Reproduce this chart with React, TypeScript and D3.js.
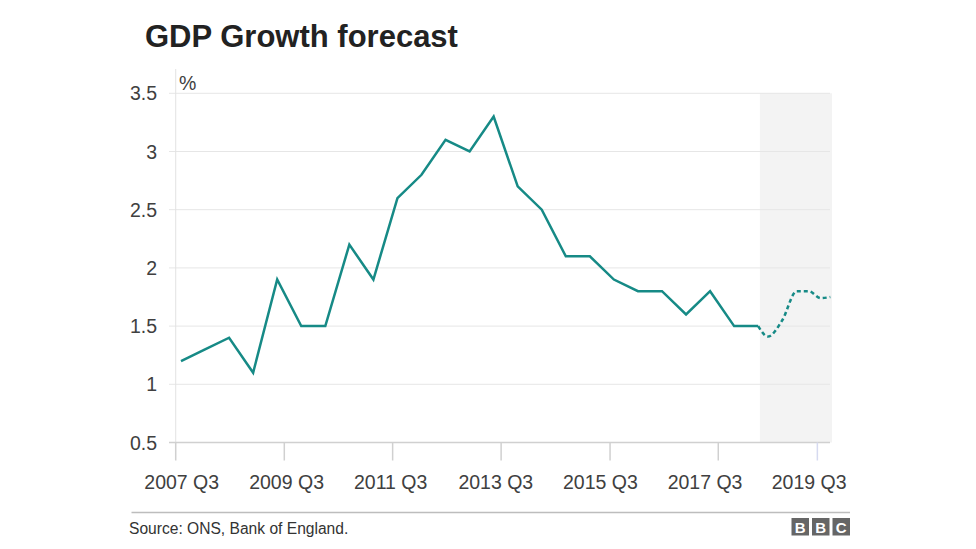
import React from "react";
import * as d3 from "d3";

// Growth values (%), one per period index
const solidValues = [
  1.2, 1.3, 1.4, 1.1, 1.9, 1.5, 1.5, 2.2, 1.9, 2.6, 2.8, 3.1, 3.0, 3.3, 2.7,
  2.5, 2.1, 2.1, 1.9, 1.8, 1.8, 1.6, 1.8, 1.5, 1.5,
];
// Forecast (dashed) in period-index units
const forecastIdx = [24, 24.4, 25, 25.6, 26.1, 26.6, 27];
const forecastValues = [1.5, 1.41, 1.55, 1.8, 1.8, 1.74, 1.75];
const forecastStart = 24.07;

const yTicks = [0.5, 1, 1.5, 2, 2.5, 3, 3.5];
const xTickIdx = [-0.22, 4.295, 8.8, 13.31, 17.84, 22.34, 26.46];
const xLabelIdx = [0.03, 4.39, 8.72, 13.09, 17.44, 21.79, 26.12];
const xLabels = [
  "2007 Q3",
  "2009 Q3",
  "2011 Q3",
  "2013 Q3",
  "2015 Q3",
  "2017 Q3",
  "2019 Q3",
];

const W = 976;
const H = 549;
const FONT = "'Liberation Sans', Arial, Helvetica, sans-serif";
const TEAL = "#168a86";

export default function App() {
  const x = d3.scaleLinear().domain([0, 24]).range([181, 758.2]);
  const y = d3.scaleLinear().domain([0.5, 3.5]).range([442.5, 93.3]);
  const left = x(xTickIdx[0]);
  const right = x(27.07);

  const solidLine = d3
    .line<number>()
    .x((_, i) => x(i))
    .y((d) => y(d))(solidValues) as string;

  const forecastPts: [number, number][] = forecastIdx.map((d, i) => [
    d,
    forecastValues[i],
  ]);
  const forecastLine = d3
    .line<[number, number]>()
    .curve(d3.curveMonotoneX)
    .x((d) => x(d[0]))
    .y((d) => y(d[1]))(forecastPts) as string;

  const bbc = ["B", "B", "C"];

  return (
    <svg
      width={W}
      height={H}
      style={{ position: "absolute", left: 0, top: 0, background: "#fff" }}
      fontFamily={FONT}
    >
      <text x={145} y={47} fontSize={31} fontWeight="bold" fill="#222">
        GDP Growth forecast
      </text>

      {/* forecast shading */}
      <rect
        x={x(forecastStart)}
        y={y(3.5)}
        width={right - x(forecastStart)}
        height={y(0.5) - y(3.5)}
        fill="#f3f3f3"
      />

      {/* gridlines */}
      {yTicks.slice(1).map((t) => (
        <line
          key={t}
          x1={169}
          x2={830}
          y1={y(t)}
          y2={y(t)}
          stroke="#e6e6e6"
          strokeWidth={1}
        />
      ))}

      {/* y axis line */}
      <line x1={left} x2={left} y1={69} y2={y(0.5)} stroke="#e2e2e2" strokeWidth={1} />

      {/* baseline */}
      <line x1={169} x2={830} y1={y(0.5)} y2={y(0.5)} stroke="#d0d0d0" strokeWidth={1.5} />

      {/* x ticks */}
      {xTickIdx.map((t, i) => (
        <line
          key={i}
          x1={x(t)}
          x2={x(t)}
          y1={y(0.5)}
          y2={y(0.5) + 18}
          stroke={i === xTickIdx.length - 1 ? "#d6daf0" : "#d0d0d0"}
          strokeWidth={1.5}
        />
      ))}

      {/* y labels */}
      {yTicks.map((t) => (
        <text
          key={t}
          x={157}
          y={y(t)}
          dy="0.36em"
          textAnchor="end"
          fontSize={19.5}
          fill="#404040"
        >
          {d3.format("")(t)}
        </text>
      ))}
      <text x={179} y={89.5} fontSize={19.5} fill="#404040">
        %
      </text>

      {/* x labels */}
      {xLabels.map((l, i) => (
        <text
          key={l}
          x={x(xLabelIdx[i])}
          y={489}
          textAnchor="middle"
          fontSize={19.5}
          fill="#404040"
        >
          {l}
        </text>
      ))}

      {/* lines */}
      <path d={solidLine} fill="none" stroke={TEAL} strokeWidth={2.5} strokeLinejoin="miter" />
      <path
        d={forecastLine}
        fill="none"
        stroke={TEAL}
        strokeWidth={2.5}
        strokeDasharray="4 3"
      />

      {/* footer */}
      <line x1={131.5} x2={850} y1={512.5} y2={512.5} stroke="#bdbdbd" strokeWidth={1.5} />
      <text x={129} y={534} fontSize={15.6} fill="#333">
        Source: ONS, Bank of England.
      </text>
      {bbc.map((c, i) => (
        <g key={i} transform={`translate(${791.5 + i * 20.5},518)`}>
          <rect width={17.5} height={17.5} fill="#666" />
          <text
            x={8.75}
            y={14.5}
            textAnchor="middle"
            fontSize={15}
            fontWeight="bold"
            fill="#fff"
          >
            {c}
          </text>
        </g>
      ))}
    </svg>
  );
}
